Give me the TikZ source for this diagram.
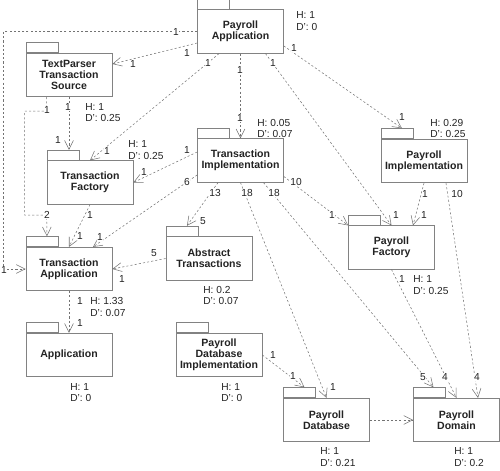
\documentclass[tikz,border=0pt]{standalone}
\usepackage{fontspec}
\setmainfont{Liberation Sans}
\usepackage{tikz}
\usetikzlibrary{arrows.meta,calc,positioning}
\definecolor{boxline}{RGB}{130,130,130}
\definecolor{depline}{RGB}{115,115,115}
\definecolor{labeltext}{RGB}{35,35,35}

\begin{document}
\begin{tikzpicture}[
    x=0.02cm, y=-0.02cm,
    pkg/.style={rectangle, draw=boxline, line width=0.4pt, minimum width=1.72cm, minimum height=0.87cm, inner sep=0pt, align=center, text=labeltext, font=\fontsize{6}{6.3}\selectfont\bfseries},
    pkgtab/.style={rectangle, draw=boxline, line width=0.35pt, minimum width=0.64cm, minimum height=0.2cm, inner sep=0pt, anchor=south west},
    dep/.style={-{Straight Barb[length=5pt,width=5pt]}, draw=depline, line width=0.3pt, dash pattern=on 1.2pt off 1.2pt},
    mult/.style={fill=white, inner sep=0.3pt, text=labeltext, font=\fontsize{5.8}{6.3}\selectfont},
    metric/.style={anchor=west, align=left, inner sep=0pt, text=labeltext, font=\fontsize{5.8}{6.7}\selectfont}
]
\useasboundingbox (0,0) rectangle (500,470);

% packages
\node[pkg] (pa) at (240.5,31.5) {Payroll\\Application};
\node[pkgtab] (paT) at (pa.north west) {};
\node[metric] (paM) at (296,21) {H: 1\\D': 0};

\node[pkg] (tps) at (69,75) {TextParser\\Transaction\\Source};
\node[pkgtab] (tpsT) at (tps.north west) {};
\node[metric] (tpsM) at (85,112.5) {H: 1\\D': 0.25};

\node[pkg] (tf) at (90,182.5) {Transaction\\Factory};
\node[pkgtab] (tfT) at (tf.north west) {};
\node[metric] (tfM) at (128,150) {H: 1\\D': 0.25};

\node[pkg] (ti) at (240.5,160.5) {Transaction\\Implementation};
\node[pkgtab] (tiT) at (ti.north west) {};
\node[metric] (tiM) at (257,128.5) {H: 0.05\\D': 0.07};

\node[pkg] (pi) at (424,161) {Payroll\\Implementation};
\node[pkgtab] (piT) at (pi.north west) {};
\node[metric] (piM) at (430,128.5) {H: 0.29\\D': 0.25};

\node[pkg] (ta) at (69,269) {Transaction\\Application};
\node[pkgtab] (taT) at (ta.north west) {};
\node[metric] (taM) at (90,307) {H: 1.33\\D': 0.07};

\node[pkg] (at) at (209,258.5) {Abstract\\Transactions};
\node[pkgtab] (atT) at (at.north west) {};
\node[metric] (atM) at (203,295.5) {H: 0.2\\D': 0.07};

\node[pkg] (pf) at (391.5,247.5) {Payroll\\Factory};
\node[pkgtab] (pfT) at (pf.north west) {};
\node[metric] (pfM) at (413,285) {H: 1\\D': 0.25};

\node[pkg] (app) at (69,355) {Application};
\node[pkgtab] (appT) at (app.north west) {};
\node[metric] (appM) at (70,392.5) {H: 1\\D': 0};

\node[pkg] (pdi) at (219,355) {Payroll\\Database\\Implementation};
\node[pkgtab] (pdiT) at (pdi.north west) {};
\node[metric] (pdiM) at (221,392.5) {H: 1\\D': 0};

\node[pkg] (pd) at (326.5,420) {Payroll\\Database};
\node[pkgtab] (pdT) at (pd.north west) {};
\node[metric] (pdM) at (320,457) {H: 1\\D': 0.21};

\node[pkg] (pdom) at (456.5,420) {Payroll\\Domain};
\node[pkgtab] (pdomT) at (pdom.north west) {};
\node[metric] (pdomM) at (454,457) {H: 1\\D': 0.2};

% dependencies
\draw[dep] (pa.west) -| ($(ta.west)+(-22,0)$) -- (ta.west);
\draw[dep] ($(pa.west)+(0,11.5)$) -- ($(tps.east)+(0,-11)$);
\draw[dep] ($(pa.south)+(-21.5,0)$) -- (tf.north);
\draw[dep] (pa.south) -- (ti.north);
\draw[dep] ($(pa.south)+(25,0)$) -- (pf.north);
\draw[dep] ($(pa.east)+(0,14.5)$) -- ($(piT.north)+(5,0)$);

\draw[dep] (tps.south) -- (tps.south |- tfT.north);
\draw[dep] ($(tps.south west)+(21,0)$) -- ++(0,14) -- ++(-22,0) -- ++(0,104) -- ++(22,0) -- ($(taT.north)+(5,0)$);

\draw[dep] (tf.south) -- (ta.north);

\draw[dep] ($(ti.west)+(0,-8.5)$) -- (tf.east);
\draw[dep] ($(ti.west)+(0,14.5)$) -- ($(ta.north)+(24,0)$);
\draw[dep] ($(ti.south)+(-22.5,0)$) -- ($(atT.north)+(5,0)$);
\draw[dep] (ti.south) -- (pd.north);
\draw[dep] ($(ti.south)+(23,0)$) -- ($(pdomT.north)+(4,0)$);
\draw[dep] ($(ti.east)+(0,16)$) -- (pf.north west);

\draw[dep] (pi.south) -- ($(pf.north)+(21.5,0)$);
\draw[dep] ($(pi.south)+(22,0)$) -- ($(pdom.north)+(21.5,0)$);

\draw[dep] (pf.south) -- (pdom.north);
\draw[dep] (ta.south) -- (app.north);
\draw[dep] (at.west) -- (ta.east);
\draw[dep] (pdi.east) -- ($(pdT.north)+(5,0)$);
\draw[dep] (pd.east) -- (pdom.west);

% multiplicities
\node[mult] (m1) at (176,32) {1};
\node[mult] (m2) at (187,53) {1};
\node[mult] (m3) at (133,64) {1};
\node[mult] (m4) at (208,63) {1};
\node[mult] (m5) at (273,63) {1};
\node[mult] (m6) at (294,48) {1};
\node[mult] (m7) at (240,70) {1};
\node[mult] (m8) at (240,118) {1};
\node[mult] (m9) at (402,117) {1};
\node[mult] (m10) at (68,107) {1};
\node[mult] (m11) at (47,110) {1};
\node[mult] (m12) at (58,140) {1};
\node[mult] (m13) at (107,151) {1};
\node[mult] (m14) at (187,150) {1};
\node[mult] (m15) at (144,172) {1};
\node[mult] (m16) at (187,182) {6};
\node[mult] (m17) at (215,193) {13};
\node[mult] (m18) at (247,193) {18};
\node[mult] (m19) at (274,193) {18};
\node[mult] (m20) at (296,182) {10};
\node[mult] (m21) at (425,194) {1};
\node[mult] (m22) at (457,194) {10};
\node[mult] (m23) at (47,215) {2};
\node[mult] (m24) at (90,215) {1};
\node[mult] (m25) at (80,236) {1};
\node[mult] (m26) at (100,237) {1};
\node[mult] (m27) at (203,221) {5};
\node[mult] (m28) at (332,215) {1};
\node[mult] (m29) at (396,215) {1};
\node[mult] (m30) at (424,215) {1};
\node[mult] (m31) at (154,253) {5};
\node[mult] (m32) at (4,270) {1};
\node[mult] (m33) at (122,279) {1};
\node[mult] (m34) at (402,279) {1};
\node[mult] (m35) at (80,301) {1};
\node[mult] (m36) at (80,323) {1};
\node[mult] (m37) at (273,355) {1};
\node[mult] (m38) at (293,376) {1};
\node[mult] (m39) at (333,387) {1};
\node[mult] (m40) at (423,377) {5};
\node[mult] (m41) at (445,377) {4};
\node[mult] (m42) at (477,377) {4};

\end{tikzpicture}
\end{document}
